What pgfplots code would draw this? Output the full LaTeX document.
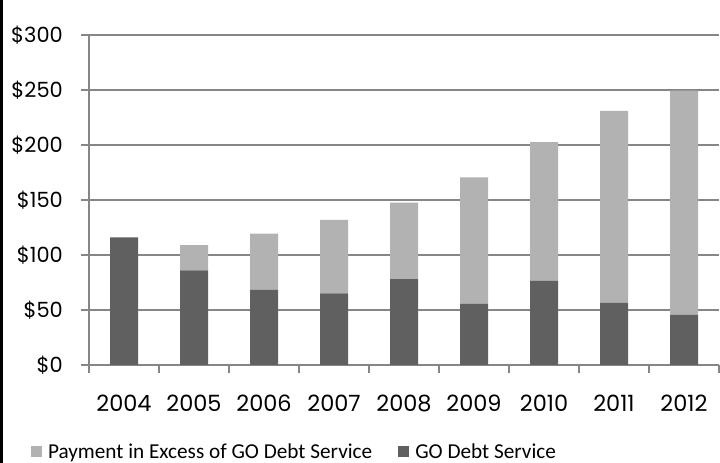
\documentclass[border=0pt]{standalone}
\usepackage{pgfplots}
\pgfplotsset{compat=1.18}
\usepackage{fontspec}
\setmainfont{Poppins}
\newfontfamily\legfont{Carlito}
\definecolor{darkbar}{HTML}{606060}
\definecolor{lightbar}{HTML}{B2B2B2}
\definecolor{gridc}{HTML}{868686}
\begin{document}
\begin{tikzpicture}[x=1bp,y=1bp]
\useasboundingbox (0,0) rectangle (720,463);
\draw[black, line width=2.7bp] (1.35,0) -- (1.35,463);
\begin{axis}[
  at={(89bp,98bp)}, anchor=south west,
  scale only axis, width=630bp, height=330bp,
  xmin=-0.5, xmax=8.5, ymin=0, ymax=300,
  ybar stacked, bar width=28bp,
  axis x line*=bottom, axis y line*=left,
  axis line style={gridc, line width=1.5bp},
  ymajorgrids, grid style={gridc, line width=1.5bp},
  ytick={0,50,...,300},
  yticklabels={\$0,\$50,\$100,\$150,\$200,\$250,\$300},
  xtick={0,...,8},
  xticklabels={2004,2005,2006,2007,2008,2009,2010,2011,2012},
  tick align=outside, major tick length=8bp,
  tick style={gridc, line width=1.5bp},
  major x tick style={draw=none},
  extra x ticks={-0.5,0.5,...,8.5},
  extra x tick labels={},
  extra x tick style={grid=none, major x tick style={draw=gridc, line width=1.5bp}},
  yticklabel style={font=\fontsize{21}{21}\selectfont, inner sep=0pt, anchor=east},
  xticklabel style={font=\fontsize{22.5}{22.5}\selectfont, inner sep=0pt, anchor=north},
  yticklabel shift=18bp,
  xticklabel shift=22bp,
  reverse legend,
  legend columns=2,
  legend style={draw=none, fill=none, inner sep=0pt, outer sep=0pt,
    at={(-0.092,-0.262)}, anchor=west,
    font=\legfont\fontsize{21.3}{21.3}\selectfont,
    nodes={inner sep=0pt},
    /tikz/every odd column/.append style={column sep=6bp},
    /tikz/every even column/.append style={column sep=26bp}},
  legend image code/.code={\fill[#1] (0bp,-5.5bp) rectangle (11bp,5.5bp);},
]
\addplot[fill=darkbar, draw=none] coordinates {(0,116) (1,86) (2,68.5) (3,65) (4,78) (5,55.5) (6,76.5) (7,56.5) (8,45.5)};
\addlegendentry{GO Debt Service}
\addplot[fill=lightbar, draw=none] coordinates {(0,0) (1,23) (2,51) (3,67) (4,69.5) (5,115) (6,126) (7,174.5) (8,204)};
\addlegendentry{Payment in Excess of GO Debt Service}
\end{axis}
\end{tikzpicture}
\end{document}
